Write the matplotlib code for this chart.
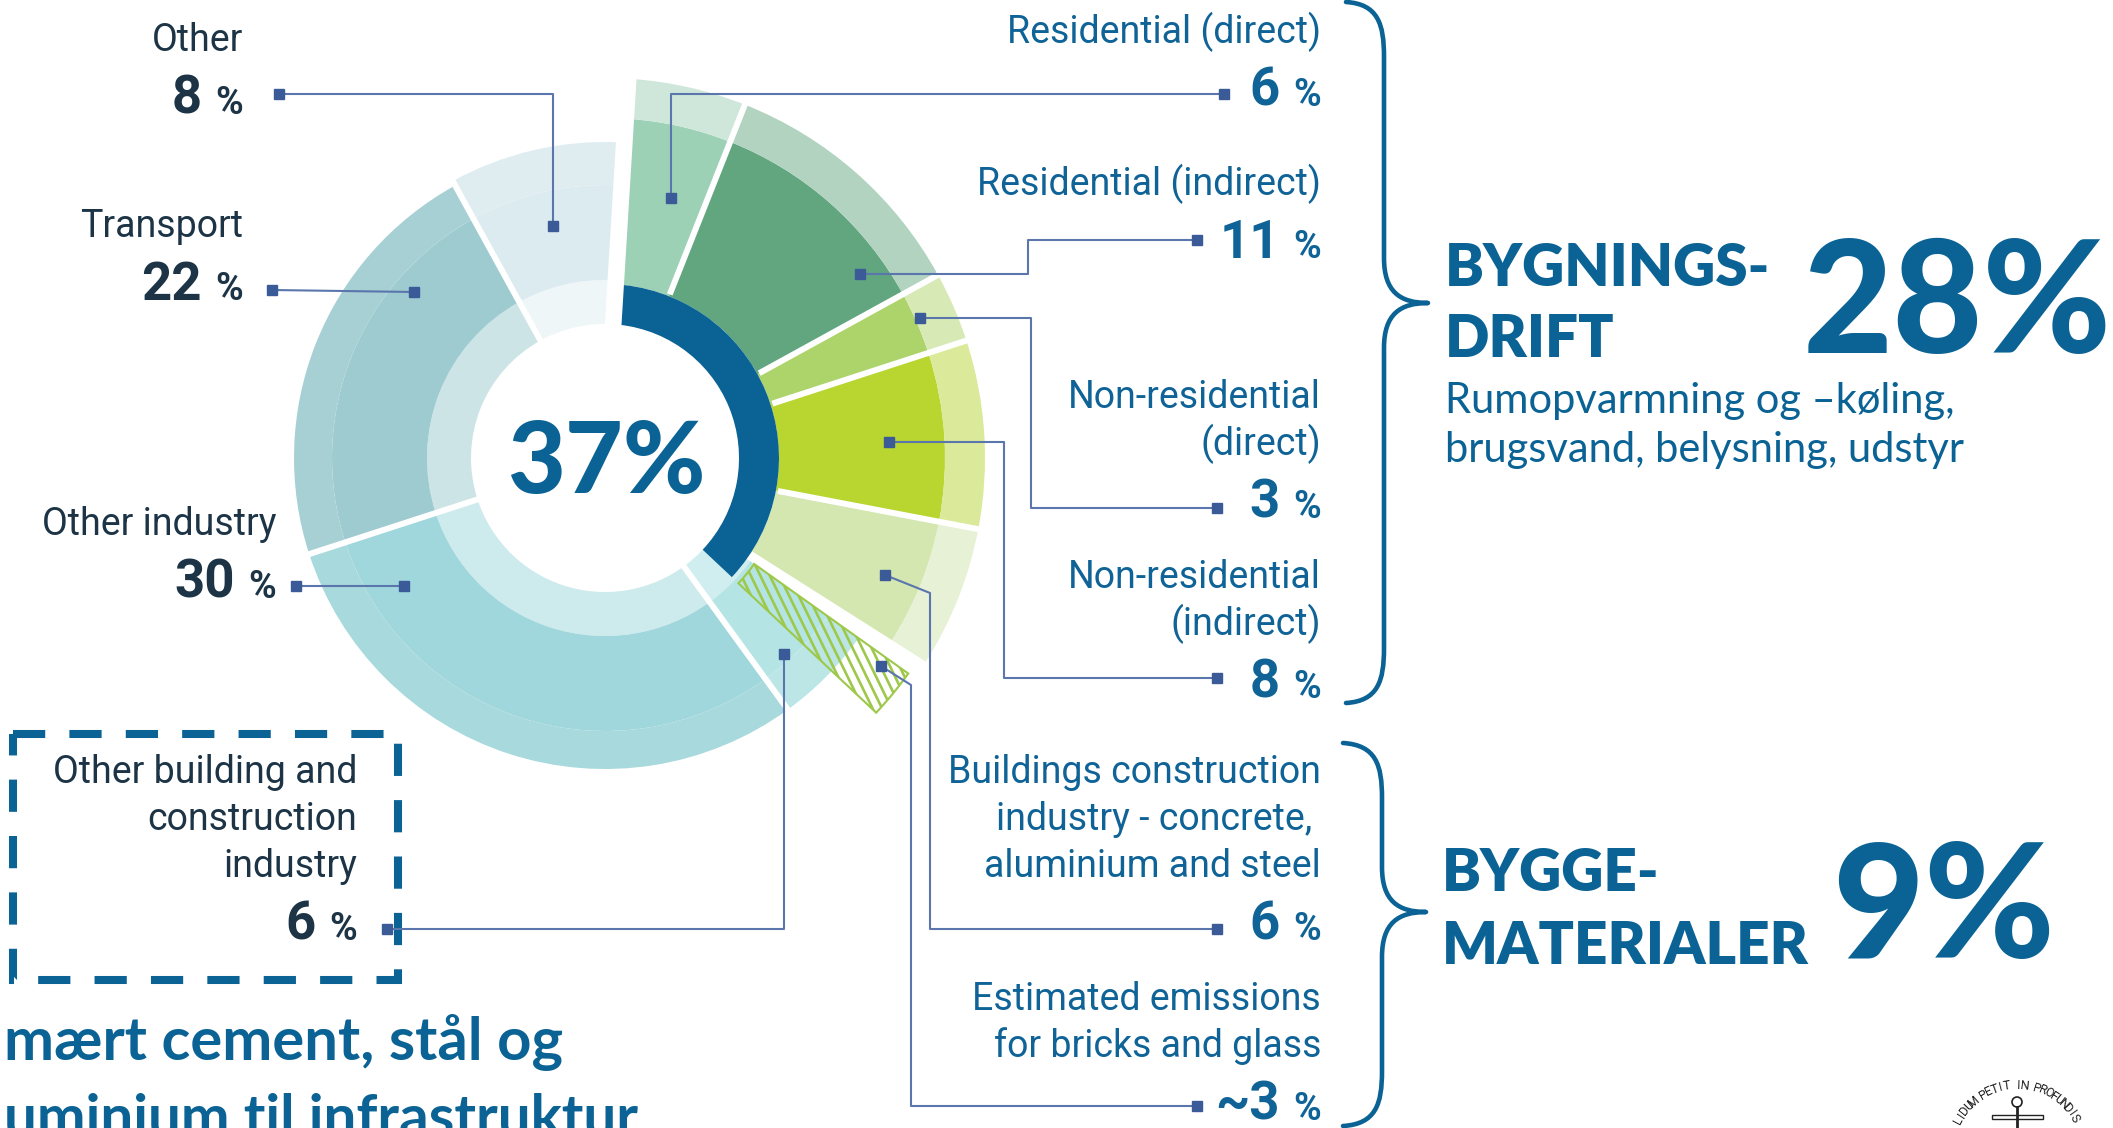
import numpy as np
import matplotlib
matplotlib.use("Agg")
import matplotlib.pyplot as plt
from matplotlib.patches import Wedge, Rectangle, PathPatch, Circle
from matplotlib.path import Path
from matplotlib.collections import LineCollection

W, H = 2113, 1128

# ---- data ---------------------------------------------------------------
sectors = ["Residential (direct)", "Residential (indirect)",
           "Non-residential (direct)", "Non-residential (indirect)",
           "Buildings construction industry",
           "Other building and construction industry",
           "Other industry", "Transport", "Other"]
shares = [6, 11, 3, 8, 6, 6, 30, 22, 8]
number_labels = ["6", "11", "3", "8", "6", "6", "30", "22", "8"]
label_lines = [["Residential (direct)"],
               ["Residential (indirect)"],
               ["Non-residential", "(direct)"],
               ["Non-residential", "(indirect)"],
               ["Buildings construction", "industry - concrete, ", "aluminium and steel"],
               ["Other building and", "construction", "industry"],
               ["Other industry"],
               ["Transport"],
               ["Other"]]
bricks_share = 3
bricks_lines = ["Estimated emissions", "for bricks and glass"]
bricks_number = "~3"
buildings_share = 37
drift_share = 28
materials_share = 9

# ---- style --------------------------------------------------------------
BLUE = '#0a6394'
GREEN_HATCH = '#9dc84a'
main_colors = ['#9dd1b6', '#62a680', '#acd46a', '#b8d530', '#d4e7b0',
               '#b5e4e4', '#9fd7dc', '#9ecbd0', '#dcebf0']
outer_colors = ['#cfe7da', '#b1d3c0', '#d7e9b5', '#dbe99b', '#e6f1d6',
                '#bce6e6', '#a8d9dd', '#a7d0d4', '#dfedf1']
inner_colors = [None] * 5 + ['#d0eeef', '#cdeaec', '#cde4e7', '#eef6f8']
is_green = [True] * 5 + [False] * 4

CX, CY = 605, 458
DEG = 360 / 100

fig = plt.figure(figsize=(W / 100, H / 100), dpi=100)
ax = fig.add_axes([0, 0, 1, 1])
ax.set_xlim(0, W)
ax.set_ylim(H, 0)
ax.axis('off')

LBL = ['Roboto', 'DejaVu Sans']
HEAD = ['Lato', 'DejaVu Sans']


def pt(r, a):
    t = np.radians(a)
    return CX + r * np.cos(t), CY - r * np.sin(t)


def ring(r_in, r_out, a_lo, a_hi, **kw):
    w = Wedge((CX, CY), r_out, -a_hi, -a_lo, width=r_out - r_in, **kw)
    ax.add_patch(w)
    return w


cum = np.concatenate([[0], np.cumsum(shares)])
a_hi = 90 - cum[:-1] * DEG
a_lo = 90 - cum[1:] * DEG
a_hi[0] -= 4.0   # gap at the top
a_lo[8] -= 2.5   # "Other" runs up to the gap
a_hi[5] -= 3.0   # white gap before the hatched bricks & glass wedge

for i in range(len(shares)):
    if is_green[i]:
        ring(174, 340, a_lo[i], a_hi[i], fc=main_colors[i], ec='none', zorder=2)
        ring(340, 380, a_lo[i], a_hi[i], fc=outer_colors[i], ec='none', zorder=2)
    else:
        r_out = 316 if i == 8 else 311
        ring(134, 178, a_lo[i], a_hi[i], fc=inner_colors[i], ec='none', zorder=2)
        ring(178, 273, a_lo[i], a_hi[i], fc=main_colors[i], ec='none', zorder=2)
        ring(273, r_out, a_lo[i], a_hi[i], fc=outer_colors[i], ec='none', zorder=2)

# white separators between sectors
for k in [1, 2, 3, 4, 6, 7, 8]:
    a = 90 - cum[k] * DEG
    r0 = 176 if k <= 4 else 120
    (x0, y0), (x1, y1) = pt(r0, a), pt(395, a)
    ax.plot([x0, x1], [y0, y1], color='white', lw=4.3, solid_capstyle='butt', zorder=3)

# blue ring = buildings share
ring(134, 174, 90 - buildings_share * DEG, 88, fc=BLUE, ec='none', zorder=4)

# top gap
(x0, y0), (x1, y1) = pt(120, 86.5), pt(400, 86.5)
ax.plot([x0, x1], [y0, y1], color='white', lw=12, solid_capstyle='butt', zorder=5)

# hatched bricks & glass overlay
b_hi = 90 - cum[5] * DEG - 3.0
b_lo = 90 - (cum[5] + bricks_share) * DEG
hw = ring(183, 372, b_lo, b_hi, fc='none', ec=GREEN_HATCH, lw=1.5, zorder=7)
corners = np.array([pt(r, a) for r in (183, 372) for a in (b_lo, b_hi)])
xmin, ymin = corners.min(axis=0) - 10
xmax, ymax = corners.max(axis=0) + 10
slope = 1 / np.tan(np.radians(64))
segs = [[(x, ymin), (x + slope * (ymax - ymin), ymax)]
        for x in np.arange(xmin - (ymax - ymin), xmax + 10, 9.5)]
lc = LineCollection(segs, colors=GREEN_HATCH, linewidths=1.9, zorder=6)
ax.add_collection(lc)
lc.set_clip_path(hw)

ax.text(606, 493, f"{buildings_share}%", ha='center', va='baseline', fontsize=72,
        fontweight='black', family=HEAD, color=BLUE, zorder=7)

# ---- labels -------------------------------------------------------------
label_x = [1321, 1321, 1321, 1321, 1321, 357, 276, 243, 243]
label_y0 = [43, 195, 408, 588, 783, 783, 535, 237, 51]
LEFT_C = '#1c3445'
RIGHT_C = '#0f6397'


def put_label(x, y0, lines, num, color):
    y = y0
    for j, s in enumerate(lines):
        if j:
            y += 47
        ax.text(x, y, s, ha='right', va='baseline', fontsize=27, family=LBL,
                color=color, zorder=8)
    y += 63
    ax.text(x, y, '%', ha='right', va='baseline', fontsize=27, family=LBL,
            fontweight='bold', color=color, zorder=8)
    ax.text(x - 41, y, num, ha='right', va='baseline', fontsize=38, family=LBL,
            fontweight='bold', color=color, zorder=8)


for i in range(len(shares)):
    put_label(label_x[i], label_y0[i], label_lines[i], number_labels[i],
              RIGHT_C if is_green[i] else LEFT_C)
put_label(1321, 1010, bricks_lines, bricks_number, RIGHT_C)

# leader lines (label side first, then into the chart)
leaders = [
    [(1224, 94), (671, 94), (671, 198)],
    [(1197, 240), (1028, 240), (1028, 274), (860, 274)],
    [(1217, 508), (1031, 508), (1031, 318), (920, 318)],
    [(1217, 678), (1004, 678), (1004, 442), (889, 442)],
    [(1217, 929), (930, 929), (930, 593), (885, 575)],
    [(387, 929), (784, 929), (784, 654)],
    [(296, 586), (404, 586)],
    [(272, 290), (414, 292)],
    [(279, 94), (553, 94), (553, 226)],
    [(1197, 1106), (911, 1106), (911, 685), (881, 666)],
]
for path in leaders:
    xs, ys = zip(*path)
    ax.plot(xs, ys, color='#5a76ad', lw=1.5, zorder=9)
    ax.plot([xs[0], xs[-1]], [ys[0], ys[-1]], ls='none', marker='s', ms=7,
            color='#3a5a98', zorder=10)

# dashed box
ax.add_patch(Rectangle((13, 734), 385, 246, fill=False, ec=BLUE, lw=5.8,
                       ls=(0, (4, 3)), zorder=8))

# ---- braces -------------------------------------------------------------
def brace(x_end, x_spine, x_tip, y_top, y_tip, y_bot, curl=55, neck=45):
    verts = [(x_end, y_top),
             (x_spine - 6, y_top + 2), (x_spine, y_top + curl * 0.4), (x_spine, y_top + curl),
             (x_spine, y_tip - neck),
             (x_spine, y_tip - neck * 0.25), (x_tip - 28, y_tip), (x_tip, y_tip),
             (x_tip - 28, y_tip), (x_spine, y_tip + neck * 0.25), (x_spine, y_tip + neck),
             (x_spine, y_bot - curl),
             (x_spine, y_bot - curl * 0.4), (x_spine - 6, y_bot - 2), (x_end, y_bot)]
    codes = [Path.MOVETO, Path.CURVE4, Path.CURVE4, Path.CURVE4, Path.LINETO,
             Path.CURVE4, Path.CURVE4, Path.CURVE4, Path.CURVE4, Path.CURVE4, Path.CURVE4,
             Path.LINETO, Path.CURVE4, Path.CURVE4, Path.CURVE4]
    ax.add_patch(PathPatch(Path(verts, codes), fill=False, ec=BLUE, lw=3.3,
                           capstyle='round', joinstyle='round', zorder=8))


brace(1346, 1384, 1428, 2, 303, 703)
brace(1343, 1382, 1426, 743, 912, 1126)

# ---- headings -----------------------------------------------------------
ax.text(1445, 286, "BYGNINGS-", ha='left', va='baseline', fontsize=42,
        fontweight='heavy', family=HEAD, color=BLUE)
ax.text(1445, 357, "DRIFT", ha='left', va='baseline', fontsize=42,
        fontweight='heavy', family=HEAD, color=BLUE)
ax.text(1957, 353, f"{drift_share}%", ha='center', va='baseline', fontsize=112,
        fontweight='black', family=HEAD, color=BLUE)
ax.text(1445, 413, "Rumopvarmning og \u2013køling,", ha='left', va='baseline',
        fontsize=30, family=HEAD, color=BLUE)
ax.text(1445, 462, "brugsvand, belysning, udstyr", ha='left', va='baseline',
        fontsize=30, family=HEAD, color=BLUE)

ax.text(1442, 891, "BYGGE-", ha='left', va='baseline', fontsize=42,
        fontweight='heavy', family=HEAD, color=BLUE)
ax.text(1442, 964, "MATERIALER", ha='left', va='baseline', fontsize=42,
        fontweight='heavy', family=HEAD, color=BLUE)
ax.text(1944, 958, f"{materials_share}%", ha='center', va='baseline', fontsize=114,
        fontweight='black', family=HEAD, color=BLUE)

# ---- bottom-left caption (cropped in the source) -------------------------
ax.text(4, 1060, "mært cement, stål og", ha='left', va='baseline', fontsize=43,
        fontweight='bold', family=HEAD, color=BLUE)
ax.text(4, 1136, "uminium til infrastruktur", ha='left', va='baseline', fontsize=42,
        fontweight='bold', family=HEAD, color=BLUE)

# ---- seal, bottom right --------------------------------------------------
motto = "LIDUM PETIT IN PROFUNDIS"
lx, ly, lr = 2017, 1152, 60
angs = np.linspace(152, 30, len(motto))
for ch, a in zip(motto, angs):
    t = np.radians(a)
    ax.text(lx + lr * np.cos(t), ly - lr * np.sin(t), ch, ha='center', va='bottom',
            rotation=a - 90, rotation_mode='anchor', fontsize=9, family=LBL, color='#222222')
ax.add_patch(Circle((2017, 1102), 5, fill=False, ec='#222222', lw=1.2))
ax.plot([2017, 2017], [1107, 1130], color='#222222', lw=2)
ax.add_patch(Rectangle((1992, 1115), 51, 4, fill=False, ec='#222222', lw=1))

fig.savefig("out.png", dpi=100)
